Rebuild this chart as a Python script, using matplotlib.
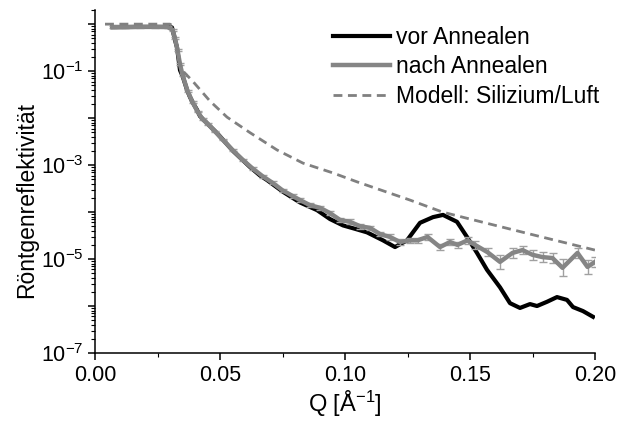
import matplotlib
matplotlib.use("Agg")
import matplotlib.pyplot as plt
import matplotlib.ticker as mticker
from matplotlib.lines import Line2D
import numpy as np

plt.rcParams['font.family'] = ['Liberation Sans', 'DejaVu Sans']
plt.rcParams['mathtext.fontset'] = 'custom'
plt.rcParams['mathtext.rm'] = 'Liberation Sans'
plt.rcParams['mathtext.it'] = 'Liberation Sans:italic'
plt.rcParams['mathtext.bf'] = 'Liberation Sans:bold'

# ---- data ----
q_vor = [0.007, 0.012, 0.018, 0.024, 0.029, 0.0308, 0.032, 0.0328, 0.034, 0.0352,
         0.0368, 0.038, 0.0392, 0.0408, 0.042, 0.0448, 0.0488, 0.0552, 0.062, 0.066,
         0.0688, 0.0752, 0.082, 0.0888, 0.094, 0.0992, 0.104, 0.1088, 0.1152, 0.120,
         0.1248, 0.130, 0.1352, 0.1392, 0.1448, 0.1488, 0.1528, 0.1568, 0.162, 0.166,
         0.170, 0.174, 0.1768, 0.1808, 0.1848, 0.1888, 0.1912, 0.1952, 0.1992]
r_vor = [0.86, 0.865, 0.87, 0.87, 0.87, 0.85, 0.46, 0.32, 0.105, 0.074,
         0.040, 0.028, 0.021, 0.015, 0.011, 7.8e-3, 4.8e-3, 2.0e-3, 9.1e-4, 6.0e-4,
         4.8e-4, 2.7e-4, 1.6e-4, 1.1e-4, 7.1e-5, 5.2e-5, 4.4e-5, 3.7e-5, 2.5e-5, 1.8e-5,
         2.5e-5, 5.9e-5, 7.8e-5, 8.7e-5, 6.2e-5, 2.95e-5, 1.35e-5, 5.9e-6, 2.5e-6, 1.15e-6,
         9.1e-7, 1.1e-6, 1.0e-6, 1.23e-6, 1.55e-6, 1.35e-6, 9.5e-7, 7.8e-7, 5.9e-7]

q_nach = [0.007, 0.012, 0.018, 0.024, 0.029, 0.031, 0.032, 0.033, 0.034, 0.035,
          0.037, 0.039, 0.041, 0.043, 0.045, 0.048, 0.051, 0.055, 0.059, 0.063,
          0.067, 0.071, 0.075, 0.079, 0.082, 0.086, 0.090, 0.094, 0.098, 0.102,
          0.106, 0.110, 0.114, 0.118, 0.122, 0.126, 0.129, 0.133, 0.138, 0.142,
          0.145, 0.149, 0.152, 0.157, 0.162, 0.167, 0.171, 0.175, 0.179, 0.183,
          0.187, 0.193, 0.197, 0.200]
r_nach = [0.87, 0.87, 0.88, 0.88, 0.87, 0.76, 0.50, 0.28, 0.14, 0.083,
          0.038, 0.022, 0.0138, 9.5e-3, 7.6e-3, 5.2e-3, 3.5e-3, 2.1e-3, 1.3e-3, 8.5e-4,
          5.8e-4, 4.2e-4, 2.9e-4, 2.2e-4, 1.8e-4, 1.4e-4, 1.23e-4, 9.5e-5, 6.8e-5, 6.2e-5,
          5.0e-5, 4.6e-5, 3.4e-5, 2.95e-5, 2.3e-5, 2.5e-5, 2.5e-5, 2.95e-5, 1.8e-5, 2.3e-5,
          2.0e-5, 2.5e-5, 2.0e-5, 1.4e-5, 8.7e-6, 1.35e-5, 1.55e-5, 1.23e-5, 1.1e-5, 1.05e-5,
          6.5e-6, 1.35e-5, 6.8e-6, 8.7e-6]
# error in decades (log10)
e_nach = [0.02, 0.02, 0.02, 0.02, 0.02, 0.02, 0.02, 0.02, 0.02, 0.02,
          0.02, 0.02, 0.02, 0.02, 0.02, 0.02, 0.02, 0.02, 0.02, 0.03,
          0.03, 0.03, 0.03, 0.04, 0.04, 0.04, 0.04, 0.04, 0.05, 0.05,
          0.05, 0.05, 0.05, 0.06, 0.06, 0.06, 0.06, 0.06, 0.07, 0.07,
          0.07, 0.07, 0.08, 0.09, 0.15, 0.10, 0.09, 0.10, 0.10, 0.10,
          0.18, 0.10, 0.15, 0.10]

q_model = [0.004, 0.030, 0.031, 0.032, 0.033, 0.034, 0.0352, 0.0392, 0.046, 0.0528,
           0.062, 0.0728, 0.0832, 0.0952, 0.1048, 0.126, 0.139, 0.150, 0.175, 0.200]
r_model = [1.0, 1.0, 0.92, 0.55, 0.30, 0.15, 0.10, 0.060, 0.023, 0.0105,
           4.9e-3, 2.1e-3, 1.1e-3, 6.8e-4, 4.4e-4, 1.8e-4, 1.0e-4, 7.1e-5, 3.3e-5, 1.55e-5]

labels = ['vor Annealen', 'nach Annealen', 'Modell: Silizium/Luft']
xticks = [0.00, 0.05, 0.10, 0.15, 0.20]

# ---- figure ----
fig = plt.figure(figsize=(6.17, 4.22), dpi=100)
ax = fig.add_axes([95/617, 1-353/422, 500/617, 343/422])

black_col = 'black'
gray_col = '#858585'
model_col = '#808080'

ax.plot(q_vor, r_vor, color=black_col, lw=3.0, zorder=2)
rn = np.array(r_nach)
en = np.array(e_nach)
yerr = [rn - rn / 10**en, rn * 10**en - rn]
ax.errorbar(q_nach, r_nach, yerr=yerr, fmt='-', color=gray_col, lw=3.2,
            ecolor='#a0a0a0', elinewidth=1.0, capsize=3, capthick=1.0,
            zorder=3)
ax.plot(q_model, r_model, color=model_col, lw=2.0, dashes=(3.2, 2.0), zorder=4)

ax.set_yscale('log')
ax.set_xlim(0.0, 0.20)
ax.set_ylim(1e-7, 2.0)

for s in ['top', 'right']:
    ax.spines[s].set_visible(False)
for s in ['left', 'bottom']:
    ax.spines[s].set_linewidth(1.1)

ax.set_xticks(xticks)
ax.xaxis.set_major_formatter(mticker.FormatStrFormatter('%.2f'))
ax.xaxis.set_minor_locator(mticker.MultipleLocator(0.025))

ax.yaxis.set_major_locator(mticker.FixedLocator([10.0**k for k in range(-7, 1)]))
def yfmt(v, pos):
    k = int(round(np.log10(v)))
    if k % 2 != 0:
        return r'$\mathregular{10^{%d}}$' % k
    return ''
ax.yaxis.set_major_formatter(mticker.FuncFormatter(yfmt))
ax.yaxis.set_minor_locator(mticker.LogLocator(base=10, subs=np.arange(2, 10), numticks=100))
ax.yaxis.set_minor_formatter(mticker.NullFormatter())

ax.tick_params(which='major', direction='out', length=5, width=1.1, labelsize=15.5)
ax.tick_params(which='minor', direction='out', length=3, width=0.8)

ax.set_xlabel('Q [Å$^{\\mathregular{-1}}$]', fontsize=17, labelpad=2)
ax.set_ylabel('Röntgenreflektivität', fontsize=16.5)
ax.yaxis.set_label_coords(-0.113, (353 - 200) / 343)

handles = [Line2D([], [], color=black_col, lw=3.0),
           Line2D([], [], color=gray_col, lw=3.2),
           Line2D([], [], color=model_col, lw=2.0, dashes=(3.2, 2.0))]
leg = ax.legend(handles, labels, loc='upper left', bbox_to_anchor=(333/617, 1-26/422),
                bbox_transform=fig.transFigure, frameon=False, fontsize=16.5,
                handlelength=2.5, handletextpad=0.25, labelspacing=0.28,
                borderpad=0, borderaxespad=0)

fig.savefig('out.png', dpi=100)
